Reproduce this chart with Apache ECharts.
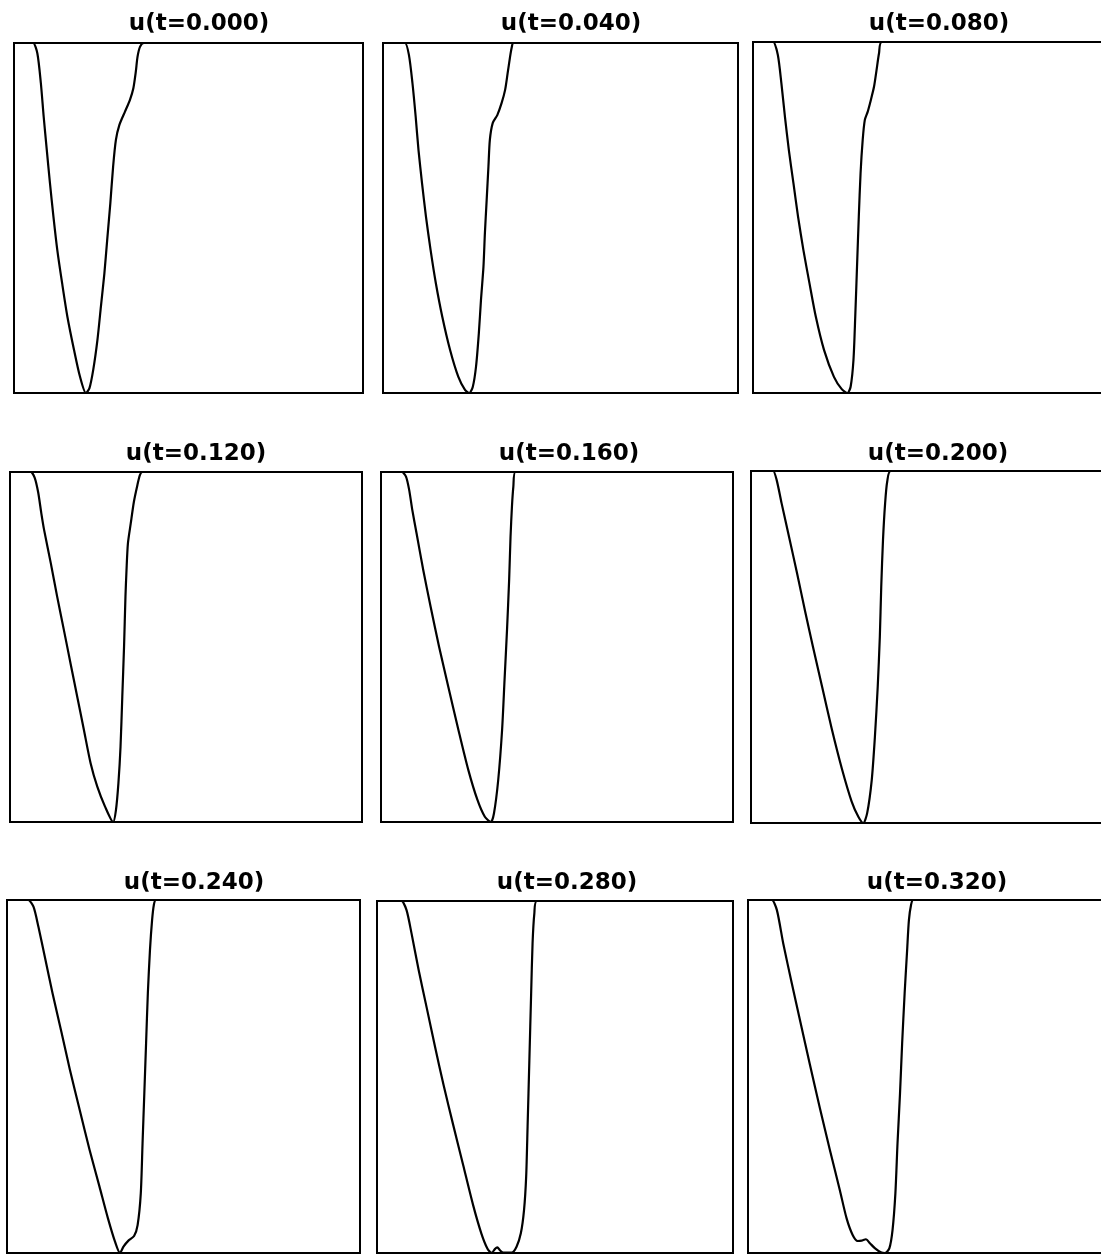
<!DOCTYPE html>
<html>
<head>
<meta charset="utf-8">
<script src="https://cdn.jsdelivr.net/npm/echarts@6/dist/echarts.min.js"></script>
<style>
html,body{margin:0;padding:0;background:#fff;}
#chart{width:1101px;height:1254px;}
</style>
</head>
<body>
<div id="chart"></div>
<script>
// ---- data (x normalised 0..1 across the box, u normalised 0 (top) .. -1 (bottom)) ----
const titles = ['u(t=0.000)','u(t=0.040)','u(t=0.080)','u(t=0.120)','u(t=0.160)','u(t=0.200)','u(t=0.240)','u(t=0.280)','u(t=0.320)'];

const x0 = [0,0.045,0.055,0.067,0.077,0.085,0.094,0.103,0.113,0.124,0.138,0.153,0.172,0.189,0.206,0.216,0.227,0.239,0.249,0.259,0.267,0.276,0.284,0.292,0.302,0.318,0.332,0.342,0.349,0.354,0.361,0.372,1];
const u0 = [0,0,0,-0.03,-0.115,-0.21,-0.306,-0.4,-0.496,-0.591,-0.687,-0.782,-0.877,-0.953,-1,-0.987,-0.934,-0.849,-0.753,-0.658,-0.563,-0.458,-0.353,-0.277,-0.234,-0.196,-0.163,-0.129,-0.082,-0.039,-0.011,0,0];

const x1 = [0,0.05,0.062,0.073,0.083,0.092,0.100,0.110,0.121,0.134,0.149,0.167,0.189,0.212,0.231,0.243,0.253,0.262,0.270,0.276,0.283,0.287,0.292,0.297,0.301,0.309,0.322,0.334,0.344,0.351,0.358,0.363,0.367,1];
const u1 = [0,0,0,-0.034,-0.115,-0.21,-0.306,-0.401,-0.496,-0.591,-0.687,-0.782,-0.877,-0.953,-0.991,-1,-0.982,-0.925,-0.829,-0.734,-0.639,-0.544,-0.449,-0.353,-0.277,-0.229,-0.206,-0.172,-0.134,-0.087,-0.039,-0.011,0,0];

const x2 = [0,0.045,0.057,0.070,0.080,0.090,0.101,0.114,0.127,0.142,0.159,0.177,0.200,0.228,0.250,0.266,0.275,0.283,0.288,0.293,0.298,0.303,0.309,0.315,0.323,0.332,0.341,0.348,0.355,0.363,1];
const u2 = [0,0,0,-0.037,-0.118,-0.213,-0.308,-0.403,-0.498,-0.593,-0.687,-0.783,-0.877,-0.954,-0.989,-1,-0.982,-0.906,-0.783,-0.64,-0.498,-0.374,-0.279,-0.222,-0.199,-0.165,-0.127,-0.08,-0.032,0,0];

const x3 = [0,0.048,0.059,0.070,0.080,0.089,0.097,0.116,0.134,0.153,0.172,0.191,0.210,0.229,0.248,0.270,0.293,0.301,0.308,0.314,0.319,0.324,0.328,0.331,0.335,0.343,0.352,0.362,0.369,0.376,1];
const u3 = [0,0,0,-0.016,-0.058,-0.118,-0.166,-0.261,-0.356,-0.451,-0.547,-0.642,-0.737,-0.832,-0.899,-0.956,-1,-0.966,-0.889,-0.785,-0.642,-0.499,-0.356,-0.28,-0.204,-0.147,-0.085,-0.037,-0.009,0,0];

const x4 = [0,0.048,0.059,0.071,0.080,0.089,0.101,0.120,0.141,0.165,0.191,0.220,0.248,0.274,0.295,0.312,0.321,0.333,0.344,0.351,0.358,0.364,0.368,0.372,0.376,0.382,1];
const u4 = [0,0,0,-0.013,-0.051,-0.109,-0.175,-0.28,-0.385,-0.499,-0.613,-0.737,-0.851,-0.937,-0.985,-1,-0.975,-0.88,-0.737,-0.594,-0.451,-0.309,-0.185,-0.099,-0.042,0,0];

const x5 = [0,0.052,0.063,0.073,0.087,0.108,0.131,0.154,0.176,0.202,0.229,0.258,0.286,0.305,0.319,0.330,0.343,0.352,0.360,0.366,0.370,0.375,0.381,0.387,0.397,1];
const u5 = [0,0,0,-0.026,-0.092,-0.187,-0.291,-0.4,-0.499,-0.613,-0.731,-0.845,-0.939,-0.982,-1,-0.972,-0.878,-0.755,-0.613,-0.471,-0.329,-0.196,-0.092,-0.03,0,0];

const x6 = [0,0.05,0.060,0.075,0.089,0.108,0.129,0.154,0.178,0.206,0.234,0.262,0.286,0.306,0.320,0.330,0.344,0.360,0.370,0.379,0.384,0.389,0.394,0.399,0.405,0.411,0.416,0.422,1];
const u6 = [0,0,0,-0.019,-0.076,-0.165,-0.264,-0.373,-0.48,-0.595,-0.708,-0.812,-0.902,-0.968,-1,-0.982,-0.965,-0.952,-0.921,-0.831,-0.689,-0.548,-0.406,-0.264,-0.142,-0.057,-0.014,0,0];

const x7 = [0,0.058,0.069,0.083,0.097,0.117,0.140,0.163,0.187,0.214,0.242,0.270,0.293,0.310,0.322,0.331,0.338,0.346,0.355,0.378,0.392,0.404,0.413,0.419,0.423,0.428,0.433,0.437,0.442,0.449,1];
const u7 = [0,0,0,-0.026,-0.092,-0.196,-0.305,-0.414,-0.523,-0.636,-0.75,-0.864,-0.944,-0.987,-1,-0.989,-0.984,-0.993,-0.999,-0.999,-0.982,-0.944,-0.878,-0.783,-0.641,-0.452,-0.262,-0.12,-0.035,0,0];

const x8 = [0,0.055,0.067,0.081,0.099,0.123,0.147,0.174,0.202,0.230,0.258,0.277,0.294,0.308,0.319,0.331,0.343,0.357,0.373,0.385,0.397,0.406,0.414,0.420,0.427,0.433,0.440,0.447,0.452,0.458,0.464,1];
const u8 = [0,0,0,-0.028,-0.123,-0.236,-0.345,-0.467,-0.59,-0.708,-0.822,-0.902,-0.949,-0.966,-0.965,-0.961,-0.973,-0.987,-0.998,-1,-0.987,-0.935,-0.831,-0.689,-0.548,-0.406,-0.264,-0.142,-0.057,-0.014,0,0];

const xs = [x0,x1,x2,x3,x4,x5,x6,x7,x8];
const us = [u0,u1,u2,u3,u4,u5,u6,u7,u8];

// ---- layout (pixel boxes of the panels) ----
const boxes = [
  {l:14, t:43, w:349, h:350, tx:199, ty:13},
  {l:383, t:43, w:355, h:350, tx:571, ty:13},
  {l:753, t:42, w:355, h:351, tx:939, ty:13},
  {l:10, t:472, w:352, h:350, tx:196, ty:443},
  {l:381, t:472, w:352, h:350, tx:569, ty:443},
  {l:751, t:471, w:352, h:352, tx:938, ty:443},
  {l:7, t:900, w:353, h:353, tx:194, ty:872},
  {l:377, t:901, w:356, h:352, tx:567, ty:872},
  {l:748, t:900, w:356, h:353, tx:937, ty:872}
];

const chart = echarts.init(document.getElementById('chart'), null, {renderer:'canvas', width:1101, height:1254});
const grid = [], xAxis = [], yAxis = [], series = [], title = [];
boxes.forEach((b, i) => {
  grid.push({left:b.l, top:b.t, width:b.w, height:b.h, show:true, borderColor:'#000', borderWidth:2,
             backgroundColor:'transparent', containLabel:false, outerBoundsMode:'none'});
  xAxis.push({type:'value', gridIndex:i, min:0, max:1, show:false, splitLine:{show:false}});
  yAxis.push({type:'value', gridIndex:i, min:-1, max:0, show:false, splitLine:{show:false}});
  series.push({
    type:'line', xAxisIndex:i, yAxisIndex:i,
    data: xs[i].map((x, k) => [x, us[i][k]]),
    smooth:0.25, showSymbol:false, symbol:'none', clip:false,
    lineStyle:{color:'#000', width:2.2, join:'round', cap:'round'}
  });
  title.push({
    text: titles[i], left: b.tx, top: b.ty, textAlign:'center', padding:0,
    textStyle:{fontFamily:'DejaVu Sans', fontWeight:'bold', fontSize:23, color:'#000'}
  });
});

chart.setOption({
  animation:false,
  backgroundColor:'#fff',
  title, grid, xAxis, yAxis, series
});
</script>
</body>
</html>
